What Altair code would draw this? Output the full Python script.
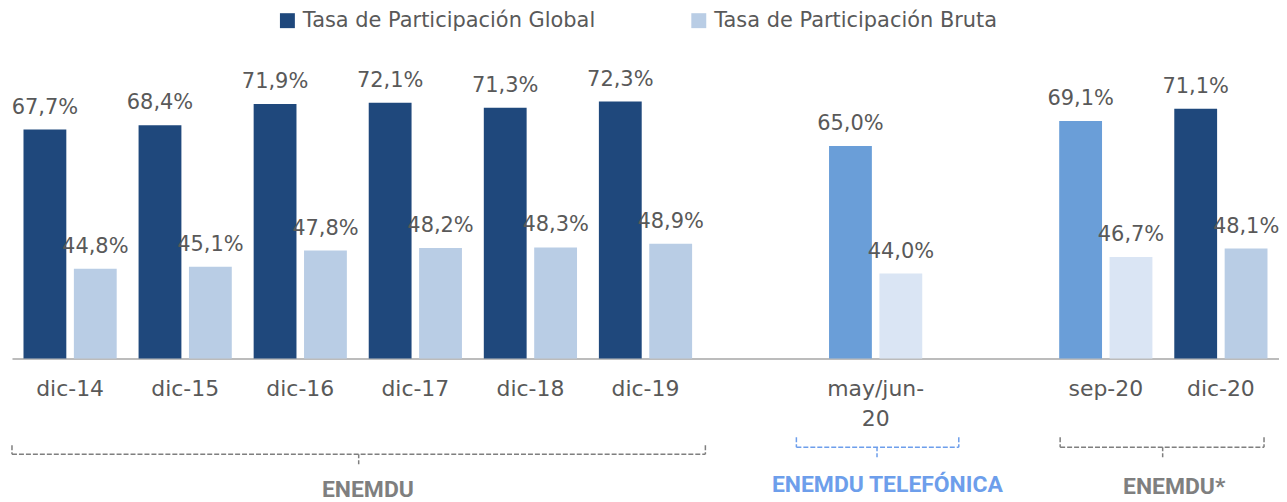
import altair as alt
import pandas as pd

# ---- data -------------------------------------------------------------
periodos = ["dic-14", "dic-15", "dic-16", "dic-17", "dic-18", "dic-19",
            "may/jun-20", "sep-20", "dic-20"]
tasa_global = [67.7, 68.4, 71.9, 72.1, 71.3, 72.3, 65.0, 69.1, 71.1]
tasa_bruta = [44.8, 45.1, 47.8, 48.2, 48.3, 48.9, 44.0, 46.7, 48.1]
periodos_destacados = ["may/jun-20", "sep-20"]

# slots on the x axis (two empty slots separate the survey groups)
slots = ["dic-14", "dic-15", "dic-16", "dic-17", "dic-18", "dic-19", " ",
         "may/jun-20", "  ", "sep-20", "dic-20"]

SERIE_G = "Tasa de Participación Global"
SERIE_B = "Tasa de Participación Bruta"
SERIE_G2 = "Tasa de Participación Global (destacada)"
SERIE_B2 = "Tasa de Participación Bruta (destacada)"

# survey-group brackets (in slot units)
br_nombre = ["ENEMDU", "ENEMDU TELEFÓNICA", "ENEMDU*"]
br_inicio = [0.0, 6.81, 9.1]
br_fin = [6.02, 8.22, 10.87]
br_centro = [3.01, 7.51, 9.99]
br_texto = [3.09, 7.6, 10.09]

rows = []
for p, g, b in zip(periodos, tasa_global, tasa_bruta):
    dest = p in periodos_destacados
    rows.append({"periodo": p, "serie": "Global", "valor": g,
                 "clave": SERIE_G2 if dest else SERIE_G})
    rows.append({"periodo": p, "serie": "Bruta", "valor": b,
                 "clave": SERIE_B2 if dest else SERIE_B})
df = pd.DataFrame(rows)
df["etiqueta"] = df["valor"].map(lambda v: f"{v:.1f}".replace(".", ",") + "%")

dfb = pd.DataFrame({"nombre": br_nombre, "x0": br_inicio, "x1": br_fin,
                    "xc": br_centro, "xt": br_texto})

FONT = "DejaVu Sans"
GRAY = "#595959"

x_enc = alt.X("periodo:N", scale=alt.Scale(domain=slots, paddingInner=0.19, paddingOuter=0.1),
              title=None,
              axis=alt.Axis(labelAngle=0, ticks=False, domainColor="#A6A6A6", domainWidth=1.5,
                            labelFont=FONT, labelFontSize=22, labelColor=GRAY,
                            labelPadding=20, labelLineHeight=30, labelLimit=0,
                            labelExpr="datum.value == 'may/jun-20' ? ['may/jun-', '20'] : (trim(datum.value) == '' ? '' : datum.value)"))
xo_enc = alt.XOffset("serie:N", scale=alt.Scale(domain=["Global", "Bruta"], paddingInner=0.15, paddingOuter=0))
y_enc = alt.Y("valor:Q", scale=alt.Scale(domain=[30, 80], zero=False, nice=False), axis=None)

base = alt.Chart(df)
bars = base.mark_bar(clip=True).encode(
    x=x_enc, xOffset=xo_enc, y=y_enc,
    color=alt.Color("clave:N",
                    scale=alt.Scale(domain=[SERIE_G, SERIE_B, SERIE_G2, SERIE_B2],
                                    range=["#1F487C", "#B9CDE5", "#6A9ED8", "#DAE5F4"]),
                    legend=alt.Legend(values=[SERIE_G, SERIE_B], title=None, orient="none",
                                      direction="horizontal", legendX=266, legendY=-45,
                                      symbolType="square", symbolSize=225, symbolStrokeWidth=0,
                                      labelFont=FONT, labelFontSize=21, labelColor=GRAY,
                                      labelOffset=5, labelLimit=0, columnPadding=93)),
)
labels = base.mark_text(dy=-16, baseline="alphabetic", align="center", font=FONT,
                        fontSize=21, color=GRAY).encode(
    x=x_enc, xOffset=xo_enc, y=y_enc, text="etiqueta:N")

main = alt.layer(bars, labels)

xq = lambda f: alt.X(f"{f}:Q", scale=alt.Scale(domain=[0, 11], nice=False, zero=False), axis=None)


def bracket(nombre, color, y_top, y_h, y_c, y_t):
    b = alt.Chart(dfb).transform_filter(alt.datum.nombre == nombre)
    dash = [5, 2]
    return [
        b.mark_rule(color=color, strokeWidth=1.5, strokeDash=dash).encode(
            x=xq("x0"), x2="x1:Q", y=alt.value(y_h)),
        b.mark_rule(color=color, strokeWidth=1.5, strokeDash=dash).encode(
            x=xq("x0"), y=alt.value(y_top), y2=alt.value(y_h)),
        b.mark_rule(color=color, strokeWidth=1.5, strokeDash=dash).encode(
            x=xq("x1"), y=alt.value(y_top), y2=alt.value(y_h)),
        b.mark_rule(color=color, strokeWidth=1.5, strokeDash=[4, 2]).encode(
            x=xq("xc"), y=alt.value(y_h), y2=alt.value(y_c)),
        b.mark_text(color=color, font="Roboto", fontWeight="bold", fontSize=23,
                    baseline="alphabetic", align="center").encode(
            x=xq("xt"), y=alt.value(y_t), text="nombre:N"),
    ]


ann_layers = (bracket("ENEMDU", "#7F7F7F", 392, 401, 411, 444)
              + bracket("ENEMDU TELEFÓNICA", "#6D9EEB", 384, 394, 406, 439)
              + bracket("ENEMDU*", "#7F7F7F", 384, 394, 406, 441))
ann = alt.layer(*ann_layers)

chart = alt.layer(main, ann).resolve_scale(x="independent").properties(
    width=1272, height=305, autosize="none",
    padding={"left": 4, "top": 46, "right": 0, "bottom": 143},
).configure_view(stroke=None)

chart.save("out.html", embed_options={"renderer": "svg", "actions": False})
